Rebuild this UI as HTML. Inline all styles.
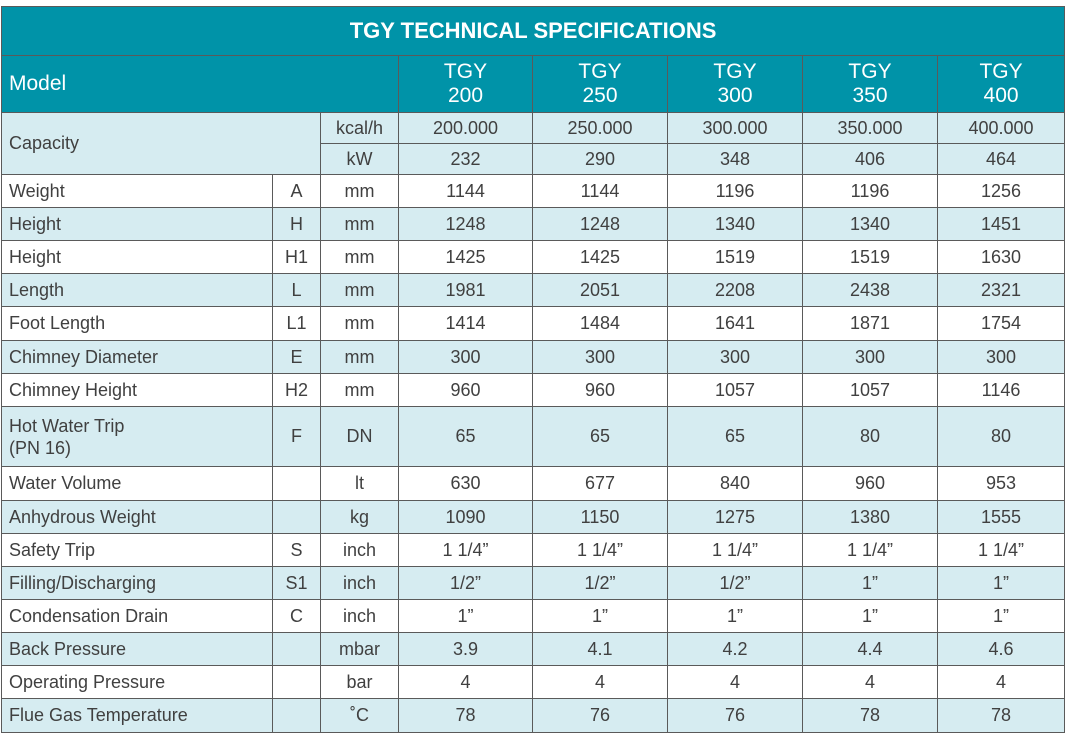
<!DOCTYPE html>
<html><head><meta charset="utf-8"><style>
body{margin:0;background:#fff;width:1066px;height:734px;overflow:hidden;font-family:"Liberation Sans",sans-serif}
table{position:absolute;left:1px;top:6px;border-collapse:collapse;table-layout:fixed;width:1063px}
td{border:1px solid #5a5a5a;padding:0;text-align:center;font-size:18px;color:#404040;overflow:hidden}
td.l{text-align:left;padding-left:7px}
tr.h td{background:#0093a8;color:#fff}
tr.b td{background:#d6ecf1}
tr.w td{background:#fff}
</style></head><body>
<table>
<colgroup><col style="width:271px"><col style="width:48px"><col style="width:78px"><col style="width:134px"><col style="width:135px"><col style="width:135px"><col style="width:135px"><col style="width:127px"></colgroup>
<tr class="h" style="height:49px"><td colspan="8" style="font-weight:bold;font-size:22px">TGY TECHNICAL SPECIFICATIONS</td></tr>
<tr class="h" style="height:57px"><td colspan="3" class="l" style="font-size:21px">Model</td><td style="font-size:21px;line-height:24px">TGY<br>200</td><td style="font-size:21px;line-height:24px">TGY<br>250</td><td style="font-size:21px;line-height:24px">TGY<br>300</td><td style="font-size:21px;line-height:24px">TGY<br>350</td><td style="font-size:21px;line-height:24px">TGY<br>400</td></tr>
<tr class="b" style="height:31px"><td colspan="2" rowspan="2" class="l">Capacity</td><td>kcal/h</td><td>200.000</td><td>250.000</td><td>300.000</td><td>350.000</td><td>400.000</td></tr>
<tr class="b" style="height:31px"><td>kW</td><td>232</td><td>290</td><td>348</td><td>406</td><td>464</td></tr>
<tr class="w" style="height:33px"><td class="l">Weight</td><td>A</td><td>mm</td><td>1144</td><td>1144</td><td>1196</td><td>1196</td><td>1256</td></tr>
<tr class="b" style="height:33px"><td class="l">Height</td><td>H</td><td>mm</td><td>1248</td><td>1248</td><td>1340</td><td>1340</td><td>1451</td></tr>
<tr class="w" style="height:33px"><td class="l">Height</td><td>H1</td><td>mm</td><td>1425</td><td>1425</td><td>1519</td><td>1519</td><td>1630</td></tr>
<tr class="b" style="height:33px"><td class="l">Length</td><td>L</td><td>mm</td><td>1981</td><td>2051</td><td>2208</td><td>2438</td><td>2321</td></tr>
<tr class="w" style="height:34px"><td class="l">Foot Length</td><td>L1</td><td>mm</td><td>1414</td><td>1484</td><td>1641</td><td>1871</td><td>1754</td></tr>
<tr class="b" style="height:33px"><td class="l">Chimney Diameter</td><td>E</td><td>mm</td><td>300</td><td>300</td><td>300</td><td>300</td><td>300</td></tr>
<tr class="w" style="height:33px"><td class="l">Chimney Height</td><td>H2</td><td>mm</td><td>960</td><td>960</td><td>1057</td><td>1057</td><td>1146</td></tr>
<tr class="b" style="height:60px"><td class="l" style="line-height:22px">Hot Water Trip<br>(PN 16)</td><td>F</td><td>DN</td><td>65</td><td>65</td><td>65</td><td>80</td><td>80</td></tr>
<tr class="w" style="height:34px"><td class="l">Water Volume</td><td></td><td>lt</td><td>630</td><td>677</td><td>840</td><td>960</td><td>953</td></tr>
<tr class="b" style="height:33px"><td class="l">Anhydrous Weight</td><td></td><td>kg</td><td>1090</td><td>1150</td><td>1275</td><td>1380</td><td>1555</td></tr>
<tr class="w" style="height:33px"><td class="l">Safety Trip</td><td>S</td><td>inch</td><td>1 1/4”</td><td>1 1/4”</td><td>1 1/4”</td><td>1 1/4”</td><td>1 1/4”</td></tr>
<tr class="b" style="height:33px"><td class="l">Filling/Discharging</td><td>S1</td><td>inch</td><td>1/2”</td><td>1/2”</td><td>1/2”</td><td>1”</td><td>1”</td></tr>
<tr class="w" style="height:33px"><td class="l">Condensation Drain</td><td>C</td><td>inch</td><td>1”</td><td>1”</td><td>1”</td><td>1”</td><td>1”</td></tr>
<tr class="b" style="height:33px"><td class="l">Back Pressure</td><td></td><td>mbar</td><td>3.9</td><td>4.1</td><td>4.2</td><td>4.4</td><td>4.6</td></tr>
<tr class="w" style="height:33px"><td class="l">Operating Pressure</td><td></td><td>bar</td><td>4</td><td>4</td><td>4</td><td>4</td><td>4</td></tr>
<tr class="b" style="height:34px"><td class="l">Flue Gas Temperature</td><td></td><td>˚C</td><td>78</td><td>76</td><td>76</td><td>78</td><td>78</td></tr>
</table>
</body></html>
